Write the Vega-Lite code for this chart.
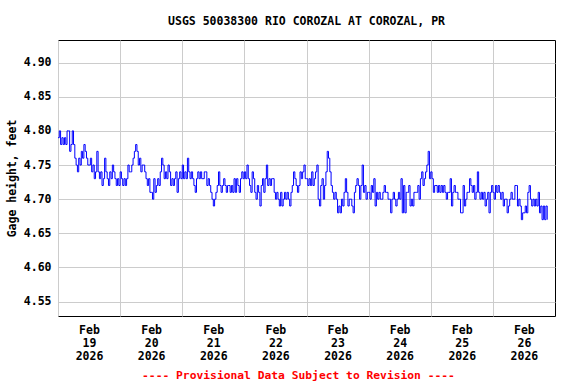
{
 "$schema": "https://vega.github.io/schema/vega-lite/v6.json",
 "width": 497, "height": 276,
 "autosize": {"type": "none"},
 "padding": {"left": 58, "top": 40, "right": 21, "bottom": 68},
 "background": "white",
 "config": {"view": {"stroke": "black", "strokeWidth": 1}},
 "title": {"text": "USGS 50038300 RIO COROZAL AT COROZAL, PR", "font": "DejaVu Sans Mono", "fontSize": 11.5, "fontWeight": "bold", "color": "black", "anchor": "middle", "offset": 13},
 "data": {"values": [
{"t":"2026-02-19T00:00","v":4.79},{"t":"2026-02-19T00:30","v":4.80},{"t":"2026-02-19T01:00","v":4.78},{"t":"2026-02-19T01:30","v":4.79},
{"t":"2026-02-19T02:00","v":4.78},{"t":"2026-02-19T02:30","v":4.79},{"t":"2026-02-19T03:00","v":4.78},{"t":"2026-02-19T03:30","v":4.80},
{"t":"2026-02-19T04:00","v":4.80},{"t":"2026-02-19T04:30","v":4.77},{"t":"2026-02-19T05:00","v":4.78},{"t":"2026-02-19T05:30","v":4.80},
{"t":"2026-02-19T06:00","v":4.78},{"t":"2026-02-19T06:30","v":4.76},{"t":"2026-02-19T07:00","v":4.75},{"t":"2026-02-19T07:30","v":4.74},
{"t":"2026-02-19T08:00","v":4.76},{"t":"2026-02-19T08:30","v":4.75},{"t":"2026-02-19T09:00","v":4.77},{"t":"2026-02-19T09:30","v":4.76},
{"t":"2026-02-19T10:00","v":4.78},{"t":"2026-02-19T10:30","v":4.77},{"t":"2026-02-19T11:00","v":4.76},{"t":"2026-02-19T11:30","v":4.75},
{"t":"2026-02-19T12:00","v":4.75},{"t":"2026-02-19T12:30","v":4.76},{"t":"2026-02-19T13:00","v":4.74},{"t":"2026-02-19T13:30","v":4.75},
{"t":"2026-02-19T14:00","v":4.73},{"t":"2026-02-19T14:30","v":4.74},{"t":"2026-02-19T15:00","v":4.77},{"t":"2026-02-19T15:30","v":4.74},
{"t":"2026-02-19T16:00","v":4.73},{"t":"2026-02-19T16:30","v":4.74},{"t":"2026-02-19T17:00","v":4.72},{"t":"2026-02-19T17:30","v":4.73},
{"t":"2026-02-19T18:00","v":4.76},{"t":"2026-02-19T18:30","v":4.74},{"t":"2026-02-19T19:00","v":4.73},{"t":"2026-02-19T19:30","v":4.72},
{"t":"2026-02-19T20:00","v":4.74},{"t":"2026-02-19T20:30","v":4.73},{"t":"2026-02-19T21:00","v":4.75},{"t":"2026-02-19T21:30","v":4.74},
{"t":"2026-02-19T22:00","v":4.73},{"t":"2026-02-19T22:30","v":4.72},{"t":"2026-02-19T23:00","v":4.73},{"t":"2026-02-19T23:30","v":4.72},
{"t":"2026-02-20T00:00","v":4.74},{"t":"2026-02-20T00:30","v":4.73},{"t":"2026-02-20T01:00","v":4.72},{"t":"2026-02-20T01:30","v":4.73},
{"t":"2026-02-20T02:00","v":4.72},{"t":"2026-02-20T02:30","v":4.73},{"t":"2026-02-20T03:00","v":4.75},{"t":"2026-02-20T03:30","v":4.74},
{"t":"2026-02-20T04:00","v":4.74},{"t":"2026-02-20T04:30","v":4.75},{"t":"2026-02-20T05:00","v":4.76},{"t":"2026-02-20T05:30","v":4.77},
{"t":"2026-02-20T06:00","v":4.78},{"t":"2026-02-20T06:30","v":4.77},{"t":"2026-02-20T07:00","v":4.75},{"t":"2026-02-20T07:30","v":4.76},
{"t":"2026-02-20T08:00","v":4.74},{"t":"2026-02-20T08:30","v":4.75},{"t":"2026-02-20T09:00","v":4.75},{"t":"2026-02-20T09:30","v":4.74},
{"t":"2026-02-20T10:00","v":4.73},{"t":"2026-02-20T10:30","v":4.72},{"t":"2026-02-20T11:00","v":4.73},{"t":"2026-02-20T11:30","v":4.71},
{"t":"2026-02-20T12:00","v":4.71},{"t":"2026-02-20T12:30","v":4.70},{"t":"2026-02-20T13:00","v":4.73},{"t":"2026-02-20T13:30","v":4.71},
{"t":"2026-02-20T14:00","v":4.72},{"t":"2026-02-20T14:30","v":4.73},{"t":"2026-02-20T15:00","v":4.72},{"t":"2026-02-20T15:30","v":4.74},
{"t":"2026-02-20T16:00","v":4.76},{"t":"2026-02-20T16:30","v":4.75},{"t":"2026-02-20T17:00","v":4.73},{"t":"2026-02-20T17:30","v":4.74},
{"t":"2026-02-20T18:00","v":4.73},{"t":"2026-02-20T18:30","v":4.75},{"t":"2026-02-20T19:00","v":4.74},{"t":"2026-02-20T19:30","v":4.72},
{"t":"2026-02-20T20:00","v":4.73},{"t":"2026-02-20T20:30","v":4.72},{"t":"2026-02-20T21:00","v":4.73},{"t":"2026-02-20T21:30","v":4.74},
{"t":"2026-02-20T22:00","v":4.71},{"t":"2026-02-20T22:30","v":4.73},{"t":"2026-02-20T23:00","v":4.74},{"t":"2026-02-20T23:30","v":4.73},
{"t":"2026-02-21T00:00","v":4.75},{"t":"2026-02-21T00:30","v":4.73},{"t":"2026-02-21T01:00","v":4.74},{"t":"2026-02-21T01:30","v":4.73},
{"t":"2026-02-21T02:00","v":4.76},{"t":"2026-02-21T02:30","v":4.74},{"t":"2026-02-21T03:00","v":4.73},{"t":"2026-02-21T03:30","v":4.74},
{"t":"2026-02-21T04:00","v":4.73},{"t":"2026-02-21T04:30","v":4.72},{"t":"2026-02-21T05:00","v":4.71},{"t":"2026-02-21T05:30","v":4.73},
{"t":"2026-02-21T06:00","v":4.74},{"t":"2026-02-21T06:30","v":4.73},{"t":"2026-02-21T07:00","v":4.74},{"t":"2026-02-21T07:30","v":4.73},
{"t":"2026-02-21T08:00","v":4.73},{"t":"2026-02-21T08:30","v":4.74},{"t":"2026-02-21T09:00","v":4.74},{"t":"2026-02-21T09:30","v":4.72},
{"t":"2026-02-21T10:00","v":4.73},{"t":"2026-02-21T10:30","v":4.72},{"t":"2026-02-21T11:00","v":4.71},{"t":"2026-02-21T11:30","v":4.70},
{"t":"2026-02-21T12:00","v":4.69},{"t":"2026-02-21T12:30","v":4.70},{"t":"2026-02-21T13:00","v":4.71},{"t":"2026-02-21T13:30","v":4.72},
{"t":"2026-02-21T14:00","v":4.74},{"t":"2026-02-21T14:30","v":4.72},{"t":"2026-02-21T15:00","v":4.71},{"t":"2026-02-21T15:30","v":4.72},
{"t":"2026-02-21T16:00","v":4.73},{"t":"2026-02-21T16:30","v":4.72},{"t":"2026-02-21T17:00","v":4.71},{"t":"2026-02-21T17:30","v":4.72},
{"t":"2026-02-21T18:00","v":4.72},{"t":"2026-02-21T18:30","v":4.71},{"t":"2026-02-21T19:00","v":4.72},{"t":"2026-02-21T19:30","v":4.71},
{"t":"2026-02-21T20:00","v":4.73},{"t":"2026-02-21T20:30","v":4.71},{"t":"2026-02-21T21:00","v":4.73},{"t":"2026-02-21T21:30","v":4.72},
{"t":"2026-02-21T22:00","v":4.71},{"t":"2026-02-21T22:30","v":4.73},{"t":"2026-02-21T23:00","v":4.74},{"t":"2026-02-21T23:30","v":4.73},
{"t":"2026-02-22T00:00","v":4.74},{"t":"2026-02-22T00:30","v":4.73},{"t":"2026-02-22T01:00","v":4.75},{"t":"2026-02-22T01:30","v":4.73},
{"t":"2026-02-22T02:00","v":4.72},{"t":"2026-02-22T02:30","v":4.71},{"t":"2026-02-22T03:00","v":4.74},{"t":"2026-02-22T03:30","v":4.73},
{"t":"2026-02-22T04:00","v":4.71},{"t":"2026-02-22T04:30","v":4.70},{"t":"2026-02-22T05:00","v":4.72},{"t":"2026-02-22T05:30","v":4.71},
{"t":"2026-02-22T06:00","v":4.69},{"t":"2026-02-22T06:30","v":4.72},{"t":"2026-02-22T07:00","v":4.73},{"t":"2026-02-22T07:30","v":4.71},
{"t":"2026-02-22T08:00","v":4.73},{"t":"2026-02-22T08:30","v":4.75},{"t":"2026-02-22T09:00","v":4.72},{"t":"2026-02-22T09:30","v":4.73},
{"t":"2026-02-22T10:00","v":4.72},{"t":"2026-02-22T10:30","v":4.73},{"t":"2026-02-22T11:00","v":4.73},{"t":"2026-02-22T11:30","v":4.71},
{"t":"2026-02-22T12:00","v":4.70},{"t":"2026-02-22T12:30","v":4.71},{"t":"2026-02-22T13:00","v":4.70},{"t":"2026-02-22T13:30","v":4.69},
{"t":"2026-02-22T14:00","v":4.71},{"t":"2026-02-22T14:30","v":4.69},{"t":"2026-02-22T15:00","v":4.70},{"t":"2026-02-22T15:30","v":4.71},
{"t":"2026-02-22T16:00","v":4.70},{"t":"2026-02-22T16:30","v":4.71},{"t":"2026-02-22T17:00","v":4.70},{"t":"2026-02-22T17:30","v":4.69},
{"t":"2026-02-22T18:00","v":4.71},{"t":"2026-02-22T18:30","v":4.72},{"t":"2026-02-22T19:00","v":4.74},{"t":"2026-02-22T19:30","v":4.73},
{"t":"2026-02-22T20:00","v":4.72},{"t":"2026-02-22T20:30","v":4.71},{"t":"2026-02-22T21:00","v":4.72},{"t":"2026-02-22T21:30","v":4.74},
{"t":"2026-02-22T22:00","v":4.73},{"t":"2026-02-22T22:30","v":4.74},{"t":"2026-02-22T23:00","v":4.75},{"t":"2026-02-22T23:30","v":4.73},
{"t":"2026-02-23T00:00","v":4.73},{"t":"2026-02-23T00:30","v":4.72},{"t":"2026-02-23T01:00","v":4.73},{"t":"2026-02-23T01:30","v":4.72},
{"t":"2026-02-23T02:00","v":4.74},{"t":"2026-02-23T02:30","v":4.72},{"t":"2026-02-23T03:00","v":4.73},{"t":"2026-02-23T03:30","v":4.74},
{"t":"2026-02-23T04:00","v":4.75},{"t":"2026-02-23T04:30","v":4.70},{"t":"2026-02-23T05:00","v":4.69},{"t":"2026-02-23T05:30","v":4.72},
{"t":"2026-02-23T06:00","v":4.73},{"t":"2026-02-23T06:30","v":4.70},{"t":"2026-02-23T07:00","v":4.72},{"t":"2026-02-23T07:30","v":4.74},
{"t":"2026-02-23T08:00","v":4.77},{"t":"2026-02-23T08:30","v":4.76},{"t":"2026-02-23T09:00","v":4.74},{"t":"2026-02-23T09:30","v":4.72},
{"t":"2026-02-23T10:00","v":4.71},{"t":"2026-02-23T10:30","v":4.70},{"t":"2026-02-23T11:00","v":4.71},{"t":"2026-02-23T11:30","v":4.70},
{"t":"2026-02-23T12:00","v":4.68},{"t":"2026-02-23T12:30","v":4.69},{"t":"2026-02-23T13:00","v":4.68},{"t":"2026-02-23T13:30","v":4.70},
{"t":"2026-02-23T14:00","v":4.69},{"t":"2026-02-23T14:30","v":4.71},{"t":"2026-02-23T15:00","v":4.73},{"t":"2026-02-23T15:30","v":4.71},
{"t":"2026-02-23T16:00","v":4.69},{"t":"2026-02-23T16:30","v":4.70},{"t":"2026-02-23T17:00","v":4.70},{"t":"2026-02-23T17:30","v":4.69},
{"t":"2026-02-23T18:00","v":4.68},{"t":"2026-02-23T18:30","v":4.71},{"t":"2026-02-23T19:00","v":4.72},{"t":"2026-02-23T19:30","v":4.73},
{"t":"2026-02-23T20:00","v":4.72},{"t":"2026-02-23T20:30","v":4.70},{"t":"2026-02-23T21:00","v":4.72},{"t":"2026-02-23T21:30","v":4.75},
{"t":"2026-02-23T22:00","v":4.71},{"t":"2026-02-23T22:30","v":4.72},{"t":"2026-02-23T23:00","v":4.70},{"t":"2026-02-23T23:30","v":4.71},
{"t":"2026-02-24T00:00","v":4.71},{"t":"2026-02-24T00:30","v":4.70},{"t":"2026-02-24T01:00","v":4.72},{"t":"2026-02-24T01:30","v":4.71},
{"t":"2026-02-24T02:00","v":4.73},{"t":"2026-02-24T02:30","v":4.69},{"t":"2026-02-24T03:00","v":4.71},{"t":"2026-02-24T03:30","v":4.70},
{"t":"2026-02-24T04:00","v":4.71},{"t":"2026-02-24T04:30","v":4.70},{"t":"2026-02-24T05:00","v":4.70},{"t":"2026-02-24T05:30","v":4.71},
{"t":"2026-02-24T06:00","v":4.72},{"t":"2026-02-24T06:30","v":4.71},{"t":"2026-02-24T07:00","v":4.71},{"t":"2026-02-24T07:30","v":4.70},
{"t":"2026-02-24T08:00","v":4.70},{"t":"2026-02-24T08:30","v":4.68},{"t":"2026-02-24T09:00","v":4.70},{"t":"2026-02-24T09:30","v":4.71},
{"t":"2026-02-24T10:00","v":4.70},{"t":"2026-02-24T10:30","v":4.69},{"t":"2026-02-24T11:00","v":4.70},{"t":"2026-02-24T11:30","v":4.71},
{"t":"2026-02-24T12:00","v":4.70},{"t":"2026-02-24T12:30","v":4.73},{"t":"2026-02-24T13:00","v":4.68},{"t":"2026-02-24T13:30","v":4.72},
{"t":"2026-02-24T14:00","v":4.68},{"t":"2026-02-24T14:30","v":4.71},{"t":"2026-02-24T15:00","v":4.71},{"t":"2026-02-24T15:30","v":4.72},
{"t":"2026-02-24T16:00","v":4.69},{"t":"2026-02-24T16:30","v":4.70},{"t":"2026-02-24T17:00","v":4.69},{"t":"2026-02-24T17:30","v":4.71},
{"t":"2026-02-24T18:00","v":4.71},{"t":"2026-02-24T18:30","v":4.71},{"t":"2026-02-24T19:00","v":4.72},{"t":"2026-02-24T19:30","v":4.70},
{"t":"2026-02-24T20:00","v":4.73},{"t":"2026-02-24T20:30","v":4.74},{"t":"2026-02-24T21:00","v":4.72},{"t":"2026-02-24T21:30","v":4.73},
{"t":"2026-02-24T22:00","v":4.74},{"t":"2026-02-24T22:30","v":4.75},{"t":"2026-02-24T23:00","v":4.77},{"t":"2026-02-24T23:30","v":4.73},
{"t":"2026-02-25T00:00","v":4.74},{"t":"2026-02-25T00:30","v":4.73},{"t":"2026-02-25T01:00","v":4.71},{"t":"2026-02-25T01:30","v":4.72},
{"t":"2026-02-25T02:00","v":4.72},{"t":"2026-02-25T02:30","v":4.71},{"t":"2026-02-25T03:00","v":4.72},{"t":"2026-02-25T03:30","v":4.71},
{"t":"2026-02-25T04:00","v":4.72},{"t":"2026-02-25T04:30","v":4.71},{"t":"2026-02-25T05:00","v":4.72},{"t":"2026-02-25T05:30","v":4.71},
{"t":"2026-02-25T06:00","v":4.70},{"t":"2026-02-25T06:30","v":4.71},{"t":"2026-02-25T07:00","v":4.71},{"t":"2026-02-25T07:30","v":4.73},
{"t":"2026-02-25T08:00","v":4.69},{"t":"2026-02-25T08:30","v":4.71},{"t":"2026-02-25T09:00","v":4.72},{"t":"2026-02-25T09:30","v":4.71},
{"t":"2026-02-25T10:00","v":4.71},{"t":"2026-02-25T10:30","v":4.70},{"t":"2026-02-25T11:00","v":4.70},{"t":"2026-02-25T11:30","v":4.68},
{"t":"2026-02-25T12:00","v":4.68},{"t":"2026-02-25T12:30","v":4.72},{"t":"2026-02-25T13:00","v":4.69},{"t":"2026-02-25T13:30","v":4.70},
{"t":"2026-02-25T14:00","v":4.71},{"t":"2026-02-25T14:30","v":4.71},{"t":"2026-02-25T15:00","v":4.73},{"t":"2026-02-25T15:30","v":4.72},
{"t":"2026-02-25T16:00","v":4.71},{"t":"2026-02-25T16:30","v":4.72},{"t":"2026-02-25T17:00","v":4.70},{"t":"2026-02-25T17:30","v":4.71},
{"t":"2026-02-25T18:00","v":4.74},{"t":"2026-02-25T18:30","v":4.71},{"t":"2026-02-25T19:00","v":4.70},{"t":"2026-02-25T19:30","v":4.71},
{"t":"2026-02-25T20:00","v":4.70},{"t":"2026-02-25T20:30","v":4.71},{"t":"2026-02-25T21:00","v":4.69},{"t":"2026-02-25T21:30","v":4.70},
{"t":"2026-02-25T22:00","v":4.71},{"t":"2026-02-25T22:30","v":4.68},{"t":"2026-02-25T23:00","v":4.71},{"t":"2026-02-25T23:30","v":4.72},
{"t":"2026-02-26T00:00","v":4.71},{"t":"2026-02-26T00:30","v":4.70},{"t":"2026-02-26T01:00","v":4.72},{"t":"2026-02-26T01:30","v":4.71},
{"t":"2026-02-26T02:00","v":4.72},{"t":"2026-02-26T02:30","v":4.71},{"t":"2026-02-26T03:00","v":4.70},{"t":"2026-02-26T03:30","v":4.71},
{"t":"2026-02-26T04:00","v":4.69},{"t":"2026-02-26T04:30","v":4.70},{"t":"2026-02-26T05:00","v":4.70},{"t":"2026-02-26T05:30","v":4.68},
{"t":"2026-02-26T06:00","v":4.69},{"t":"2026-02-26T06:30","v":4.70},{"t":"2026-02-26T07:00","v":4.71},{"t":"2026-02-26T07:30","v":4.70},
{"t":"2026-02-26T08:00","v":4.70},{"t":"2026-02-26T08:30","v":4.72},{"t":"2026-02-26T09:00","v":4.72},{"t":"2026-02-26T09:30","v":4.69},
{"t":"2026-02-26T10:00","v":4.70},{"t":"2026-02-26T10:30","v":4.69},{"t":"2026-02-26T11:00","v":4.67},{"t":"2026-02-26T11:30","v":4.68},
{"t":"2026-02-26T12:00","v":4.68},{"t":"2026-02-26T12:30","v":4.69},{"t":"2026-02-26T13:00","v":4.68},{"t":"2026-02-26T13:30","v":4.71},
{"t":"2026-02-26T14:00","v":4.72},{"t":"2026-02-26T14:30","v":4.70},{"t":"2026-02-26T15:00","v":4.69},{"t":"2026-02-26T15:30","v":4.70},
{"t":"2026-02-26T16:00","v":4.69},{"t":"2026-02-26T16:30","v":4.70},{"t":"2026-02-26T17:00","v":4.69},{"t":"2026-02-26T17:30","v":4.71},
{"t":"2026-02-26T18:00","v":4.68},{"t":"2026-02-26T18:30","v":4.69},{"t":"2026-02-26T19:00","v":4.67},{"t":"2026-02-26T19:30","v":4.69},
{"t":"2026-02-26T20:00","v":4.67},{"t":"2026-02-26T20:30","v":4.69},{"t":"2026-02-26T21:00","v":4.67}
 ]},
 "mark": {"type": "line", "interpolate": "step-after", "color": "#0000ff", "strokeWidth": 1, "clip": true},
 "encoding": {
  "x": {"field": "t", "type": "temporal",
   "scale": {"domain": [{"year": 2026, "month": 2, "date": 19}, {"year": 2026, "month": 2, "date": 27}]},
   "axis": {
    "values": [{"year": 2026, "month": 2, "date": 19}, {"year": 2026, "month": 2, "date": 20}, {"year": 2026, "month": 2, "date": 21}, {"year": 2026, "month": 2, "date": 22}, {"year": 2026, "month": 2, "date": 23}, {"year": 2026, "month": 2, "date": 24}, {"year": 2026, "month": 2, "date": 25}, {"year": 2026, "month": 2, "date": 26}],
    "labelExpr": "[timeFormat(datum.value, '%b'), timeFormat(datum.value, '%d'), timeFormat(datum.value, '%Y')]",
    "labelOffset": 31, "ticks": false, "domain": false, "grid": true, "gridColor": "#cccccc", "gridWidth": 1,
    "labelFont": "DejaVu Sans Mono", "labelFontSize": 11.5, "labelFontWeight": "bold", "labelColor": "black",
    "labelPadding": 8, "labelLineHeight": 13, "labelOverlap": false, "labelBound": false, "labelFlush": false, "labelAlign": "center",
    "title": "---- Provisional Data Subject to Revision ----", "titleColor": "red", "titleFont": "DejaVu Sans Mono", "titleFontSize": 11.3, "titleFontWeight": "bold", "titlePadding": 8, "titleX": 240
   }
  },
  "y": {"field": "v", "type": "quantitative",
   "scale": {"domain": [4.529, 4.933], "nice": false, "zero": false},
   "axis": {
    "values": [4.55, 4.60, 4.65, 4.70, 4.75, 4.80, 4.85, 4.90], "format": ".2f",
    "ticks": false, "domain": false, "grid": true, "gridColor": "#cccccc", "gridWidth": 1,
    "labelFont": "DejaVu Sans Mono", "labelFontSize": 11.5, "labelFontWeight": "bold", "labelColor": "black", "labelPadding": 7,
    "title": "Gage height, feet", "titleColor": "black", "titleFont": "DejaVu Sans Mono", "titleFontSize": 11.5, "titleFontWeight": "bold", "titlePadding": 6
   }
  }
 }
}
